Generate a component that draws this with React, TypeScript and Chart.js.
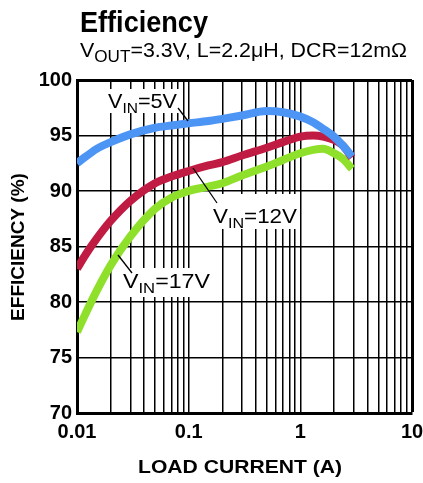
import React, { useEffect, useRef } from 'react';
import { Chart, registerables } from 'chart.js';
Chart.register(...registerables);

// ---- data ----
const loadCurrent = [0.01, 0.012, 0.015, 0.02, 0.03, 0.05, 0.07, 0.1, 0.15, 0.2, 0.3, 0.5, 0.7, 1, 1.3, 1.6, 2, 2.4, 2.9];
const effVin5 = [92.5, 93.1, 93.8, 94.4, 95.1, 95.7, 95.9, 96.1, 96.3, 96.5, 96.8, 97.2, 97.1, 96.7, 96.2, 95.6, 94.9, 94.1, 93.1];
const effVin12 = [83.0, 84.3, 85.7, 87.3, 89.1, 90.7, 91.3, 91.8, 92.3, 92.6, 93.2, 93.9, 94.4, 94.9, 95.0, 94.9, 94.6, 94.1, 93.0];
const effVin17 = [77.3, 79.0, 81.0, 83.3, 85.9, 88.4, 89.4, 90.0, 90.4, 90.7, 91.4, 92.2, 92.8, 93.4, 93.7, 93.8, 93.4, 92.9, 92.0];
const seriesNames = ['VIN=5V', 'VIN=12V', 'VIN=17V'];
const xTickLabels = [0.01, 0.1, 1, 10];
const yTickValues = [70, 75, 80, 85, 90, 95, 100];

const FONT = '"Liberation Sans", Arial, Helvetica, sans-serif';
const COLORS = ['#4d95f5', '#c01c43', '#8fe02a'];

// minor log grid values (2..9 per decade)
const xGrid: number[] = [];
for (let e = -2; e <= 0; e++) {
  for (let m = 1; m <= 9; m++) xGrid.push(Number((m * Math.pow(10, e)).toPrecision(6)));
}
xGrid.push(10);

type Seg = { t: string; sub?: boolean };

function drawRich(
  ctx: CanvasRenderingContext2D,
  segs: Seg[],
  x: number,
  y: number,
  size: number,
  weight: string,
  targetWidth?: number,
  subRatio = 0.72
) {
  const subSize = size * subRatio;
  const widths = segs.map((s) => {
    ctx.font = `${weight} ${s.sub ? subSize : size}px ${FONT}`;
    return ctx.measureText(s.t).width;
  });
  const total = widths.reduce((a, b) => a + b, 0);
  const sx = targetWidth ? targetWidth / total : 1;
  ctx.save();
  ctx.translate(x, y);
  ctx.scale(sx, 1);
  ctx.fillStyle = '#000';
  ctx.textBaseline = 'alphabetic';
  ctx.textAlign = 'left';
  let cx = 0;
  segs.forEach((s, i) => {
    ctx.font = `${weight} ${s.sub ? subSize : size}px ${FONT}`;
    ctx.fillText(s.t, cx, s.sub ? size * 0.24 : 0);
    cx += widths[i];
  });
  ctx.restore();
}

function vinSegs(name: string): Seg[] {
  const rest = name.replace('VIN', '');
  return [{ t: 'V' }, { t: 'IN', sub: true }, { t: rest }];
}

const annotPlugin = {
  id: 'annot',
  beforeDatasetsDraw(chart: any) {
    const ctx = chart.ctx as CanvasRenderingContext2D;
    ctx.save();
    ctx.fillStyle = '#fff';
    ctx.fillRect(104, 89, 76, 24);
    ctx.fillRect(206, 194, 94, 35);
    ctx.fillRect(117, 268, 96, 29);
    ctx.restore();
  },
  afterDraw(chart: any) {
    const ctx = chart.ctx as CanvasRenderingContext2D;
    // title
    drawRich(ctx, [{ t: 'Efficiency' }], 80, 32, 29, 'bold', 128);
    drawRich(
      ctx,
      [{ t: 'V' }, { t: 'OUT', sub: true }, { t: '=3.3V, L=2.2μH, DCR=12mΩ' }],
      80,
      57,
      20,
      'normal',
      327,
      0.8
    );
    // axis titles
    ctx.save();
    ctx.translate(24, 247);
    ctx.rotate(-Math.PI / 2);
    ctx.font = `bold 19px ${FONT}`;
    ctx.fillStyle = '#000';
    ctx.textAlign = 'center';
    ctx.textBaseline = 'alphabetic';
    ctx.fillText('EFFICIENCY (%)', 0, 0);
    ctx.restore();
    drawRich(ctx, [{ t: 'LOAD CURRENT (A)' }], 138, 473, 18, 'bold', 204);

    // series labels
    drawRich(ctx, vinSegs(seriesNames[0]), 108, 108, 21, 'normal', 69);
    drawRich(ctx, vinSegs(seriesNames[1]), 213, 223, 21, 'normal', 84);
    drawRich(ctx, vinSegs(seriesNames[2]), 123, 288, 21, 'normal', 87);

    // leader lines
    ctx.save();
    ctx.strokeStyle = '#000';
    ctx.lineWidth = 1.3;
    const lines = [
      [178, 108, 188, 121],
      [193, 168, 217, 203],
      [118, 255, 132, 273],
    ];
    lines.forEach(([a, b, c, d]) => {
      ctx.beginPath();
      ctx.moveTo(a, b);
      ctx.lineTo(c, d);
      ctx.stroke();
    });
    ctx.restore();
  },
};

export default function App() {
  const ref = useRef<HTMLCanvasElement | null>(null);
  useEffect(() => {
    if (!ref.current) return;
    const series = [effVin5, effVin12, effVin17];
    const chart = new Chart(ref.current, {
      type: 'line',
      data: {
        datasets: series.map((s, i) => ({
          label: seriesNames[i],
          data: loadCurrent.map((x, j) => ({ x, y: s[j] })),
          borderColor: COLORS[i],
          backgroundColor: COLORS[i],
          borderWidth: 8,
          pointRadius: 0,
          tension: 0.4,
          cubicInterpolationMode: 'monotone' as const,
          fill: false,
        })),
      },
      options: {
        animation: false,
        responsive: false,
        devicePixelRatio: 1,
        layout: { padding: { left: 0, top: 80, right: 11, bottom: 0 } },
        plugins: { legend: { display: false }, tooltip: { enabled: false } },
        scales: {
          x: {
            type: 'logarithmic',
            min: 0.01,
            max: 10,
            afterBuildTicks: (s: any) => {
              s.ticks = xGrid.map((v) => ({ value: v }));
            },
            afterFit: (s: any) => {
              s.height = 70;
              s.paddingLeft = 0;
              s.paddingRight = 0;
            },
            ticks: {
              autoSkip: false,
              maxRotation: 0,
              padding: 7,
              color: '#000',
              font: { family: FONT, size: 20, weight: 'bold' },
              callback: (v: any) => {
                const hit = xTickLabels.find((t) => Math.abs(t - v) < 1e-9);
                return hit !== undefined ? String(hit) : '';
              },
            },
            grid: {
              color: '#000',
              lineWidth: (c: any) => (c.tick && Math.abs(c.tick.value - 10) < 1e-9 ? 3 : 1.5),
              drawTicks: false,
            },
            border: { display: true, color: '#000', width: 3 },
          },
          y: {
            type: 'linear',
            min: 70,
            max: 100,
            afterBuildTicks: (s: any) => {
              s.ticks = yTickValues.map((v) => ({ value: v }));
            },
            afterFit: (s: any) => {
              s.width = 77;
              s.paddingTop = 0;
              s.paddingBottom = 0;
            },
            ticks: {
              padding: 5,
              color: '#000',
              font: { family: FONT, size: 20, weight: 'bold' },
            },
            grid: {
              color: '#000',
              lineWidth: (c: any) => (c.tick && c.tick.value === 100 ? 3 : 1.5),
              drawTicks: false,
            },
            border: { display: true, color: '#000', width: 3 },
          },
        },
      } as any,
      plugins: [annotPlugin],
    });
    return () => chart.destroy();
  }, []);
  return (
    <div style={{ position: 'fixed', left: 0, top: 0, width: 423, height: 483, background: '#fff' }}>
      <canvas ref={ref} width={423} height={483} style={{ display: 'block', width: 423, height: 483 }} />
    </div>
  );
}
